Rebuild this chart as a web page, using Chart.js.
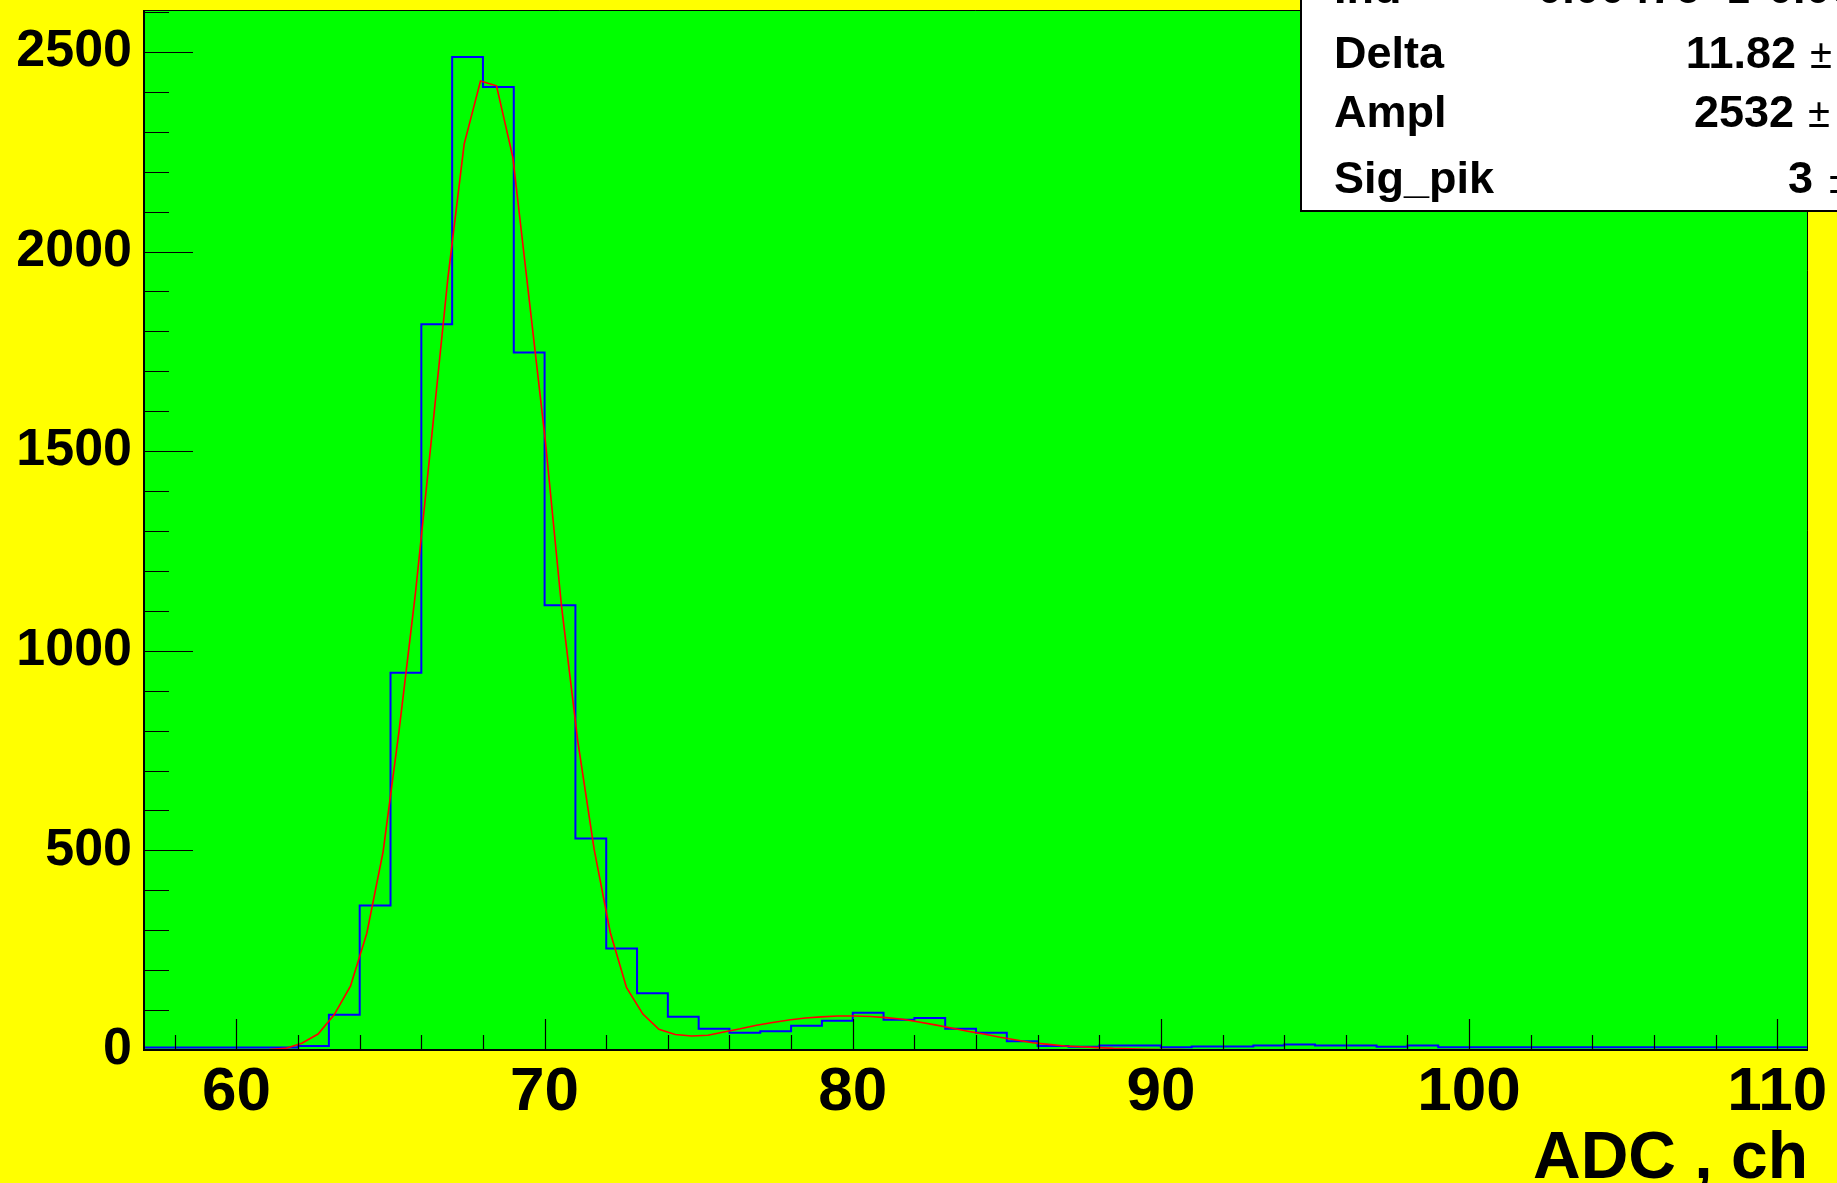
<!DOCTYPE html>
<html>
<head>
<meta charset="utf-8">
<title>ADC spectrum</title>
<script src="https://cdn.jsdelivr.net/npm/chart.js@4.4.1/dist/chart.umd.min.js"></script>
<style>
  html, body { margin: 0; padding: 0; background: #ffff00; }
  canvas { display: block; }
</style>
</head>
<body>
<canvas id="spectrum" width="1837" height="1183"></canvas>
<script>
// ADC spectrum, 1-channel bins: left edge of each bin and its count.
const binWidth = 1;
const binLeft = [
  57, 58, 59, 60, 61, 62, 63, 64, 65, 66, 67, 68, 69, 70, 71, 72, 73, 74,
  75, 76, 77, 78, 79, 80, 81, 82, 83, 84, 85, 86, 87, 88, 89, 90, 91, 92,
  93, 94, 95, 96, 97, 98, 99, 100, 101, 102, 103, 104, 105, 106, 107, 108, 109, 110
];
const counts = [
  6, 6, 6, 6, 6, 10, 88, 362, 945, 1818, 2487, 2412, 1747, 1114, 530, 254, 142, 83,
  53, 43, 47, 61, 73, 93, 76, 80, 53, 43, 22, 10, 8, 11, 11, 7, 9, 9,
  11, 14, 11, 11, 8, 11, 7, 7, 7, 7, 7, 7, 7, 7, 7, 7, 7, 7
];

// Fitted function, as sampled polyline (x in channels, y in counts).
const fitX = [
  60.54, 61.07, 61.59, 62.12, 62.65, 63.17, 63.70, 64.23, 64.76, 65.28, 65.81, 66.34,
  66.86, 67.39, 67.92, 68.44, 68.97, 69.50, 70.03, 70.55, 71.08, 71.61, 72.13, 72.66,
  73.19, 73.71, 74.24, 74.77, 75.30, 75.82, 76.35, 76.88, 77.40, 77.93, 78.46, 78.98,
  79.51, 80.04, 80.57, 81.09, 81.62, 82.15, 82.67, 83.20, 83.73, 84.25, 84.78, 85.31,
  85.84, 86.36, 86.89, 87.42, 87.94, 88.47, 89.00, 89.52, 90.05, 90.58, 91.11, 91.63,
  92.16, 92.69
];
const fitY = [
  0, 1, 4, 17, 40, 88, 160, 292, 497, 801, 1145, 1539,
  1932, 2269, 2427, 2415, 2236, 1880, 1522, 1111, 772, 502, 295, 156,
  90, 52, 39, 35, 37, 45, 53, 62, 69, 75, 80, 83,
  85, 85, 84, 81, 77, 70, 63, 55, 47, 40, 32, 25,
  18, 14, 10, 8, 6, 4, 3, 2, 1, 1, 0, 0,
  0, 0
];

// Axis layout
const xRange = [57, 111];
const yRange = [0, 2605];
const xTickLabels = [60, 70, 80, 90, 100, 110];
const yTickLabels = [0, 500, 1000, 1500, 2000, 2500];
const xMinorStep = 2;
const yMinorStep = 100;

// Fit statistics box rows (errors run past the right edge of the canvas)
const statNames = ['Ind', 'Delta', 'Ampl', 'Sig_pik'];
const statValues = ['0.00476', '11.82', '2532', '3'];
const statErrors = ['0.0001', '0.05', '18', '0.02'];

const FONT = '"Liberation Sans", Arial, Helvetica, sans-serif';
const statBox = { left: 1301, bottom: 211, labelX: 1334 };
const statBaselines = [3, 68, 127, 193];
const statValueRight = [1700, 1796, 1794, 1813];
const statPmX = [1728, 1810, 1808, 1829];

const histData = binLeft.map((x, i) => ({ x, y: counts[i] }));
histData.push({ x: binLeft[binLeft.length - 1] + binWidth, y: counts[counts.length - 1] });

const framePlugin = {
  id: 'rootFrame',
  beforeDraw(chart) {
    const { ctx, chartArea: a } = chart;
    ctx.save();
    ctx.fillStyle = '#ffff00';
    ctx.fillRect(0, 0, chart.width, chart.height);
    ctx.fillStyle = '#00ff00';
    ctx.fillRect(a.left, a.top, a.right - a.left, a.bottom - a.top);
    ctx.restore();
  },
  afterDatasetsDraw(chart) {
    const { ctx, chartArea: a } = chart;
    const { x, y } = chart.scales;
    ctx.save();
    // thin frame on top and right
    ctx.strokeStyle = '#000';
    ctx.lineWidth = 1;
    ctx.beginPath();
    ctx.moveTo(a.left, a.top + 0.5);
    ctx.lineTo(a.right - 0.5, a.top + 0.5);
    ctx.lineTo(a.right - 0.5, a.bottom);
    ctx.stroke();

    // inward tick marks
    ctx.lineWidth = 1.2;
    ctx.beginPath();
    for (let v = yRange[0]; v <= yRange[1]; v += yMinorStep) {
      const py = Math.round(y.getPixelForValue(v)) + 0.5;
      const len = v % 500 === 0 ? 49 : 25;
      ctx.moveTo(a.left, py);
      ctx.lineTo(a.left + len, py);
    }
    for (let v = Math.ceil(xRange[0] / xMinorStep) * xMinorStep; v <= xRange[1]; v += xMinorStep) {
      const px = Math.round(x.getPixelForValue(v)) + 0.5;
      const len = v % 10 === 0 ? 31 : 15;
      ctx.moveTo(px, a.bottom);
      ctx.lineTo(px, a.bottom - len);
    }
    ctx.stroke();

    // axis lines
    ctx.lineWidth = 2;
    ctx.beginPath();
    ctx.moveTo(a.left, a.top);
    ctx.lineTo(a.left, a.bottom);
    ctx.lineTo(a.right, a.bottom);
    ctx.stroke();
    ctx.restore();
  },
  afterDraw(chart) {
    const ctx = chart.ctx;
    ctx.save();
    ctx.fillStyle = '#ffffff';
    ctx.fillRect(statBox.left, -10, chart.width - statBox.left + 10, statBox.bottom + 10);
    ctx.strokeStyle = '#000';
    ctx.lineWidth = 2;
    ctx.strokeRect(statBox.left, -10, chart.width - statBox.left + 10, statBox.bottom + 10);

    ctx.fillStyle = '#000';
    ctx.textBaseline = 'alphabetic';
    statNames.forEach((name, i) => {
      ctx.font = `bold 45px ${FONT}`;
      ctx.textAlign = 'left';
      ctx.fillText(name, statBox.labelX, statBaselines[i]);
      ctx.textAlign = 'right';
      ctx.fillText(statValues[i], statValueRight[i], statBaselines[i]);
      ctx.font = `40px ${FONT}`;
      ctx.textAlign = 'left';
      ctx.fillText('\u00b1', statPmX[i], statBaselines[i]);
      ctx.font = `bold 45px ${FONT}`;
      ctx.fillText(statErrors[i], statPmX[i] + 40, statBaselines[i]);
    });
    ctx.restore();
  }
};

new Chart(document.getElementById('spectrum'), {
  type: 'line',
  data: {
    datasets: [
      {
        label: 'fit',
        data: fitX.map((x, i) => ({ x, y: fitY[i] })),
        borderColor: '#ff0000',
        borderWidth: 1.6,
        pointRadius: 0,
        tension: 0,
        fill: false
      },
      {
        label: 'ADC',
        data: histData,
        borderColor: '#0000ff',
        borderWidth: 2,
        pointRadius: 0,
        // horizontal across each bin, vertical at the next bin edge
        stepped: 'before',
        fill: false
      }
    ]
  },
  options: {
    responsive: false,
    animation: false,
    devicePixelRatio: 1,
    layout: { padding: { left: 0, right: 29, top: 10, bottom: 0 } },
    plugins: { legend: { display: false }, tooltip: { enabled: false } },
    scales: {
      x: {
        type: 'linear',
        min: xRange[0],
        max: xRange[1],
        grid: { display: false, drawTicks: false },
        border: { display: false },
        afterBuildTicks: (axis) => { axis.ticks = xTickLabels.map((value) => ({ value })); },
        afterFit: (axis) => {
          axis.height = 133;
          axis.paddingLeft = 0;
          axis.paddingRight = 0;
        },
        ticks: {
          autoSkip: false,
          maxRotation: 0,
          padding: 6,
          color: '#000',
          font: { family: FONT, size: 62, weight: 'bold' },
          callback: (value) => String(value)
        },
        title: {
          display: true,
          text: 'ADC , ch',
          align: 'end',
          color: '#000',
          padding: 0,
          font: { family: FONT, size: 66, weight: 'bold', lineHeight: 0.71 }
        }
      },
      y: {
        type: 'linear',
        min: yRange[0],
        max: yRange[1],
        grid: { display: false, drawTicks: false },
        border: { display: false },
        afterBuildTicks: (axis) => { axis.ticks = yTickLabels.map((value) => ({ value })); },
        afterFit: (axis) => {
          axis.width = 144;
          axis.paddingTop = 0;
          axis.paddingBottom = 0;
        },
        ticks: {
          padding: 12,
          color: '#000',
          font: { family: FONT, size: 52, weight: 'bold' },
          callback: (value) => String(value)
        }
      }
    }
  },
  plugins: [framePlugin]
});
</script>
</body>
</html>
